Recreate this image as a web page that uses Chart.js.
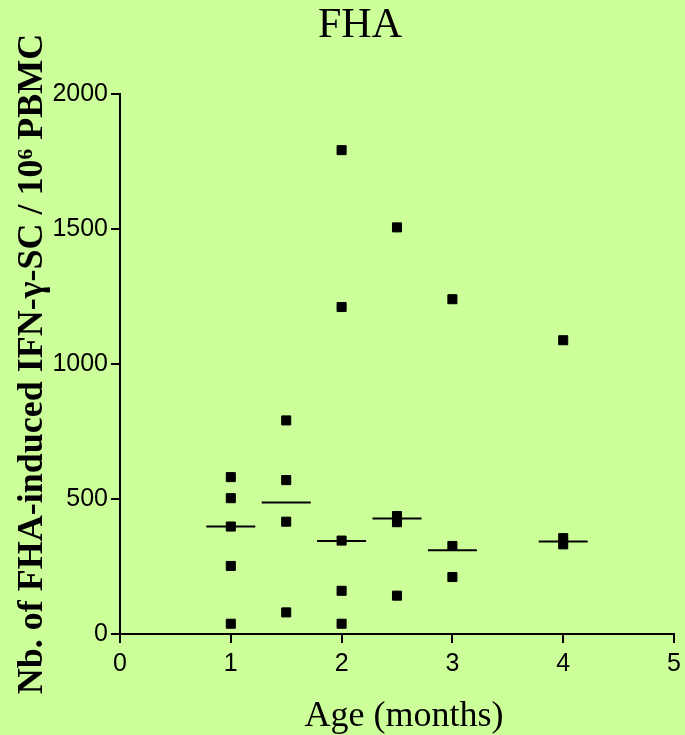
<!DOCTYPE html>
<html>
<head>
<meta charset="utf-8">
<script src="https://cdn.jsdelivr.net/npm/chart.js@4/dist/chart.umd.min.js"></script>
<style>
  html, body { margin: 0; padding: 0; background: #ccff99; overflow: hidden; }
  #wrap { width: 685px; height: 735px; }
  #c { display: block; }
</style>
</head>
<body>
<div id="wrap"><canvas id="c" width="685" height="735"></canvas></div>
<script>
// Number of FHA-induced IFN-gamma secreting cells per 10^6 PBMC, by age group (months)
const ages = [1, 1.5, 2, 2.5, 3, 4];
const spotsAge1 = [581, 503, 398, 252, 38];
const spotsAge1_5 = [791, 570, 416, 80];
const spotsAge2 = [1792, 1211, 346, 160, 38];
const spotsAge2_5 = [1506, 437, 414, 142];
const spotsAge3 = [1240, 326, 211];
const spotsAge4 = [1088, 355, 332];
const medians = [398, 487, 344, 428, 310, 343];

const xTicks = [0, 1, 2, 3, 4, 5];
const yTicks = [0, 500, 1000, 1500, 2000];

const groups = [spotsAge1, spotsAge1_5, spotsAge2, spotsAge2_5, spotsAge3, spotsAge4];
const points = [];
groups.forEach((vals, i) => vals.forEach(v => points.push({ x: ages[i], y: v })));
const medianPoints = ages.map((a, i) => ({ x: a, y: medians[i] }));

const BG = '#ccff99';

const paperPlugin = {
  id: 'paper',
  beforeDraw(chart) {
    const ctx = chart.ctx;
    ctx.save();
    ctx.fillStyle = BG;
    ctx.fillRect(0, 0, chart.width, chart.height);
    ctx.restore();
  },
  afterDraw(chart) {
    const ctx = chart.ctx;
    ctx.save();
    ctx.fillStyle = '#000';
    ctx.font = '42px "Liberation Serif", "Times New Roman", serif';
    ctx.textAlign = 'center';
    ctx.textBaseline = 'alphabetic';
    ctx.fillText('FHA', 360, 37);
    ctx.font = '36px "Liberation Serif", "Times New Roman", serif';
    ctx.fillText('Age (months)', 404, 726);
    ctx.restore();
  }
};

new Chart(document.getElementById('c'), {
  type: 'scatter',
  data: {
    datasets: [
      {
        label: 'median',
        data: medianPoints,
        pointStyle: 'line',
        pointRadius: 24.5,
        pointHoverRadius: 24.5,
        borderColor: '#000',
        borderWidth: 2,
        backgroundColor: '#000'
      },
      {
        label: 'spots',
        data: points,
        pointStyle: 'rect',
        pointRadius: 6.4,
        pointHoverRadius: 6.4,
        borderWidth: 1,
        borderColor: '#000',
        backgroundColor: '#000'
      }
    ]
  },
  plugins: [paperPlugin],
  options: {
    responsive: false,
    maintainAspectRatio: false,
    animation: false,
    devicePixelRatio: 1,
    clip: false,
    layout: { autoPadding: false, padding: { top: 94, right: 11, left: 0, bottom: 0 } },
    plugins: {
      legend: { display: false },
      tooltip: { enabled: false },
      title: { display: false }
    },
    scales: {
      x: {
        type: 'linear',
        min: 0,
        max: 5,
        afterFit(scale) {
          scale.height = 101;
          scale.paddingLeft = 0;
          scale.paddingRight = 0;
        },
        afterBuildTicks(scale) { scale.ticks = xTicks.map(v => ({ value: v })); },
        border: { display: true, color: '#000', width: 2 },
        grid: { display: true, drawOnChartArea: false, drawTicks: true, tickLength: 9, color: '#000', lineWidth: 2 },
        ticks: {
          color: '#000',
          padding: 6,
          font: { family: '"Liberation Sans", Arial, sans-serif', size: 25 },
          maxRotation: 0,
          callback: v => String(v)
        },
        title: { display: false }
      },
      y: {
        type: 'linear',
        min: 0,
        max: 2000,
        afterFit(scale) {
          scale.width = 120;
          scale.paddingTop = 0;
          scale.paddingBottom = 0;
        },
        afterBuildTicks(scale) { scale.ticks = yTicks.map(v => ({ value: v })); },
        border: { display: true, color: '#000', width: 2 },
        grid: { display: true, drawOnChartArea: false, drawTicks: true, tickLength: 9, color: '#000', lineWidth: 2 },
        ticks: {
          color: '#000',
          padding: 3,
          font: { family: '"Liberation Sans", Arial, sans-serif', size: 25 },
          callback: v => String(v)
        },
        title: {
          display: true,
          text: 'Nb. of FHA-induced IFN-\u03b3-SC / 10\u2076 PBMC',
          color: '#000',
          font: { family: '"Liberation Serif", "Times New Roman", serif', size: 36, weight: 'bold' },
          padding: { top: 11, bottom: 0 }
        }
      }
    }
  }
});
</script>
</body>
</html>
